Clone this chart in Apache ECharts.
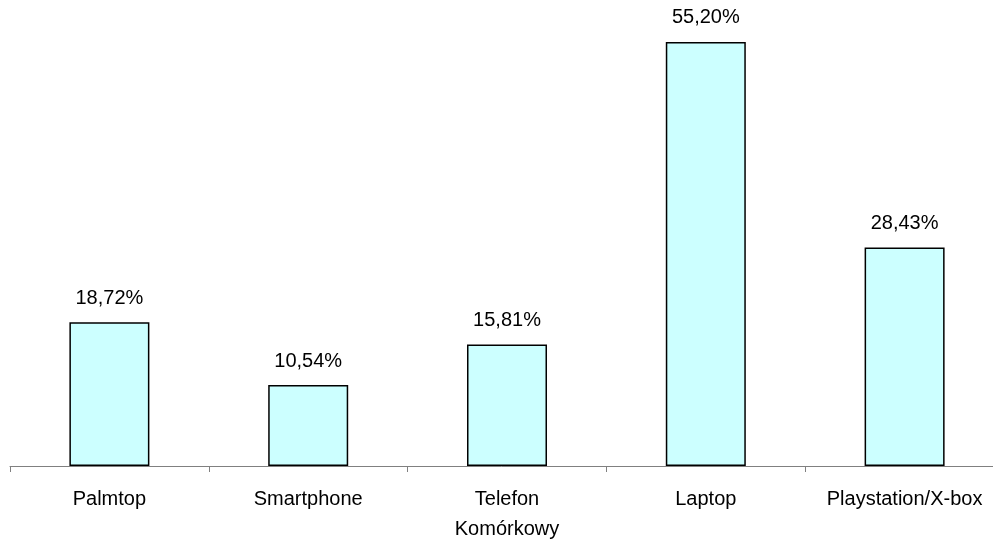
<!DOCTYPE html>
<html><head><meta charset="utf-8">
<script src="https://cdn.jsdelivr.net/npm/echarts@6/dist/echarts.min.js"></script>
<style>html,body{margin:0;padding:0;background:#fff}#c{width:993px;height:539px}</style>
</head><body><div id="c"></div>
<script>
const categories = ['Palmtop', 'Smartphone', 'Telefon\nKomórkowy', 'Laptop', 'Playstation/X-box'];
const values = [18.72, 10.54, 15.81, 55.20, 28.43];

const chart = echarts.init(document.getElementById('c'), null, {renderer: 'canvas'});
chart.setOption({
  animation: false,
  backgroundColor: '#ffffff',
  textStyle: {fontFamily: 'Liberation Sans, Arial, sans-serif'},
  grid: {left: 10, right: -11, top: 5, bottom: 73, containLabel: false, outerBoundsMode: 'none'},
  xAxis: {
    type: 'category',
    data: categories,
    axisLine: {lineStyle: {color: '#808080', width: 1}},
    axisTick: {show: true, length: 6, lineStyle: {color: '#808080'}},
    axisLabel: {color: '#000', fontSize: 20, margin: 18, lineHeight: 30, interval: 0,
      fontFamily: 'Liberation Sans, Arial, sans-serif'}
  },
  yAxis: {
    type: 'value', min: 0, max: 60,
    show: false, splitLine: {show: false}
  },
  series: [{
    type: 'bar',
    data: values,
    barWidth: 80,
    itemStyle: {color: '#CCFFFF', borderColor: '#000000', borderWidth: 1.5},
    label: {
      show: true, position: 'top', distance: 14, color: '#000', fontSize: 20,
      fontFamily: 'Liberation Sans, Arial, sans-serif',
      formatter: p => p.value.toFixed(2).replace('.', ',') + '%'
    }
  }]
});
</script></body></html>
